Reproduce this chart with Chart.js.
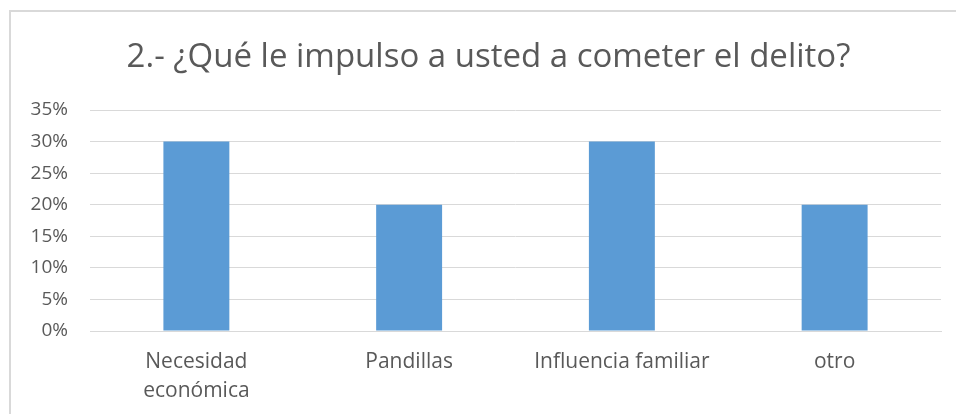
<!DOCTYPE html>
<html>
<head>
<meta charset="utf-8">
<script src="https://cdn.jsdelivr.net/npm/chart.js@4"></script>
<style>
  html, body { margin: 0; padding: 0; background: #fff; overflow: hidden; }
  #frame { position: absolute; left: 9px; top: 10px; width: 1000px; height: 500px;
           border-left: 2px solid #d9d9d9; border-top: 2px solid #d9d9d9; }
  #wrap { position: absolute; left: 0; top: 0; width: 956px; height: 414px; }
</style>
</head>
<body>
<div id="frame"></div>
<div id="wrap"><canvas id="chart"></canvas></div>
<script>
// data
const categories = [['Necesidad', 'económica'], 'Pandillas', 'Influencia familiar', 'otro'];
const values = [30, 20, 30, 20];
const tickValues = [0, 5, 10, 15, 20, 25, 30, 35];

const textColor = '#595959';
const font = 'Open Sans';

// the title in the reference sits a bit right of the canvas centre
const shiftTitle = {
  id: 'shiftTitle',
  afterLayout(chart) { if (chart.titleBlock) chart.titleBlock.left = 36; }
};

new Chart(document.getElementById('chart'), {
  type: 'bar',
  data: {
    labels: categories,
    datasets: [{
      data: values,
      backgroundColor: '#5b9bd5',
      borderWidth: 0,
      categoryPercentage: 1,
      barPercentage: 0.31
    }]
  },
  options: {
    responsive: true, maintainAspectRatio: false, animation: false,
    layout: { padding: { left: 0, right: 15, top: 0, bottom: 0 } },
    plugins: {
      legend: { display: false },
      tooltip: { enabled: false },
      title: {
        display: true,
        text: '2.- ¿Qué le impulso a usted a cometer el delito?',
        color: textColor,
        font: { family: font, size: 33, weight: 'normal', lineHeight: 1.2 },
        padding: { top: 38, bottom: 32.4 }
      }
    },
    scales: {
      x: {
        grid: { display: false, drawTicks: false },
        border: { display: true, color: '#d9d9d9', width: 1 },
        ticks: { color: textColor, font: { family: font, size: 21, lineHeight: 1.4 }, padding: 16, maxRotation: 0, autoSkip: false },
        afterFit: s => { s.height = 83; }
      },
      y: {
        min: 0, max: 35,
        afterBuildTicks: s => { s.ticks = tickValues.map(v => ({ value: v })); },
        grid: { color: '#d9d9d9', drawTicks: false },
        border: { display: false },
        ticks: { color: textColor, font: { family: font, size: 19 }, padding: 22, callback: v => v + '%' },
        afterFit: s => { s.width = 90; }
      }
    }
  },
  plugins: [shiftTitle]
});
</script>
</body>
</html>
